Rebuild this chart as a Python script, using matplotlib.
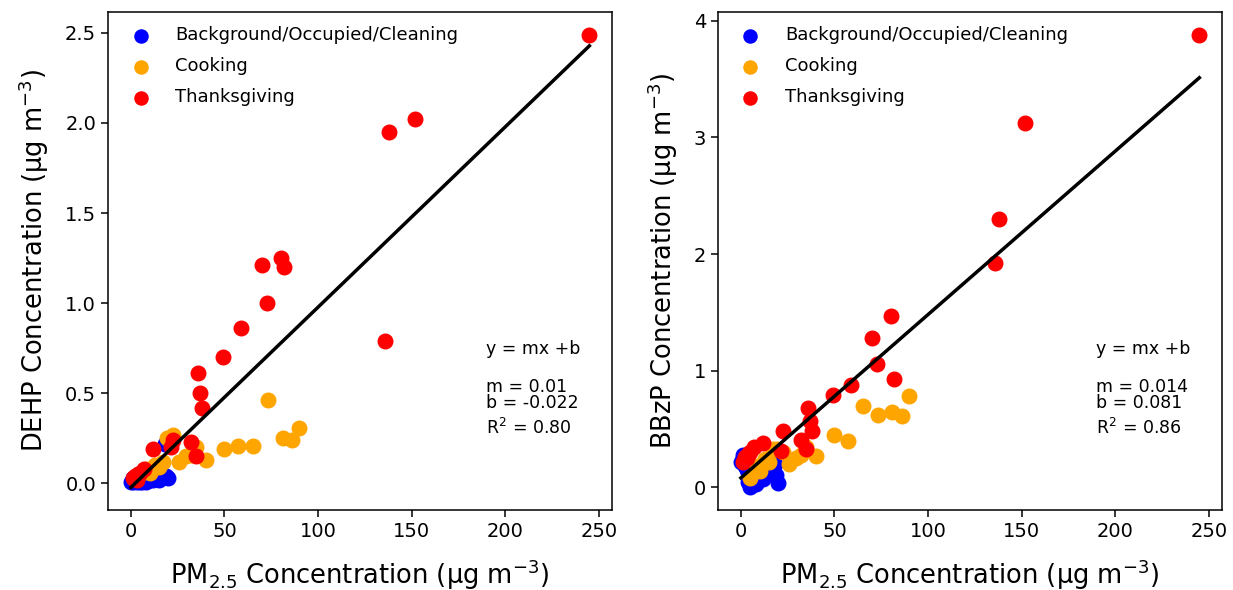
import numpy as np
import matplotlib
matplotlib.use("Agg")
import matplotlib.pyplot as plt

# PM2.5 (x) and phthalate concentrations (y) per period
bg_pm = [0, 1, 2, 3, 4, 5, 6, 7, 8, 10, 12, 15, 18, 20, 19, 1, 2, 3]
bg_dehp = [0.01, 0.01, 0.02, 0.01, 0.02, 0.01, 0.01, 0.02, 0.01, 0.02, 0.02, 0.02, 0.22, 0.03, 0.04, 0.03, 0.02, 0.03]
bg_bbzp = [0.22, 0.25, 0.18, 0.15, 0.05, 0.0, 0.02, 0.10, 0.03, 0.08, 0.07, 0.15, 0.20, 0.04, 0.11, 0.28, 0.27, 0.26]

cook_pm = [73.5, 90, 81, 86, 65, 57, 50, 40, 25.5, 22.5, 32, 35, 29.5, 13, 10, 5, 8, 19.5, 17, 15]
cook_dehp = [0.46, 0.31, 0.25, 0.24, 0.21, 0.21, 0.19, 0.13, 0.12, 0.27, 0.16, 0.20, 0.15, 0.10, 0.06, 0.05, 0.08, 0.25, 0.12, 0.09]
cook_bbzp = [0.62, 0.78, 0.65, 0.61, 0.70, 0.40, 0.45, 0.27, 0.20, 0.30, 0.28, 0.35, 0.25, 0.24, 0.14, 0.08, 0.18, 0.33, 0.33, 0.22]

tg_pm = [245, 152, 138, 136, 80, 82, 70, 72.5, 59, 49, 36, 37, 38, 32, 22.5, 21.5, 35, 12, 7, 4, 1, 2, 5, 3]
tg_dehp = [2.49, 2.02, 1.95, 0.79, 1.25, 1.20, 1.21, 1.00, 0.86, 0.70, 0.61, 0.50, 0.42, 0.23, 0.24, 0.20, 0.15, 0.19, 0.08, 0.05, 0.03, 0.04, 0.06, 0.02]
tg_bbzp = [3.88, 3.12, 2.30, 1.92, 1.47, 0.93, 1.28, 1.06, 0.88, 0.79, 0.68, 0.57, 0.48, 0.41, 0.48, 0.31, 0.33, 0.38, 0.35, 0.29, 0.22, 0.26, 0.30, 0.25]

# fit results shown on the plot
fits = {
    "DEHP": (0.01, -0.022, "0.01", "-0.022", "0.80"),
    "BBzP": (0.014, 0.081, "0.014", "0.081", "0.86"),
}

fig = plt.figure(figsize=(12.33, 5.9), dpi=100)
ax1 = fig.add_axes([0.0876, 0.1356, 0.409, 0.844])
ax2 = fig.add_axes([0.5823, 0.1356, 0.409, 0.844])

panels = [(ax1, "DEHP", bg_dehp, cook_dehp, tg_dehp),
          (ax2, "BBzP", bg_bbzp, cook_bbzp, tg_bbzp)]

for ax, name, yb, yc, yt in panels:
    ax.scatter(bg_pm, yb, s=110, color="blue", label="Background/Occupied/Cleaning")
    ax.scatter(cook_pm, yc, s=110, color="orange", label="Cooking")
    ax.scatter(tg_pm, yt, s=110, color="red", label="Thanksgiving")

    m, b, ms, bs, r2 = fits[name]
    xx = np.array([0, max(tg_pm)])
    ax.plot(xx, m * xx + b, color="black", lw=2.5)

    ax.text(0.75, 0.323, "y = mx +b", transform=ax.transAxes, fontsize=12.5, va="center")
    ax.text(0.75, 0.231, f"m = {ms}\nb = {bs}", transform=ax.transAxes, fontsize=12.5,
            va="center", linespacing=0.87)
    ax.text(0.75, 0.165, f"R$^2$ = {r2}", transform=ax.transAxes, fontsize=12.5, va="center")

    ax.set_xlabel("PM$_{2.5}$ Concentration (μg m$^{-3}$)", fontsize=18.5, labelpad=12)
    ax.set_ylabel(f"{name} Concentration (μg m$^{{-3}}$)", fontsize=18.5, labelpad=10)
    ax.tick_params(labelsize=14, length=5, width=1.1)
    for sp in ax.spines.values():
        sp.set_linewidth(1.1)
    ax.set_xticks([0, 50, 100, 150, 200, 250])
    ax.legend(loc="upper left", frameon=False, fontsize=13, labelspacing=0.72,
              handletextpad=0.9, borderaxespad=0.4, markerscale=0.9)

ax1.set_xlim(-12.25, 257.25)
ax2.set_xlim(-12.25, 257.25)
ax2.set_yticks([0, 1, 2, 3, 4])

plt.savefig("out.png", dpi=100)
